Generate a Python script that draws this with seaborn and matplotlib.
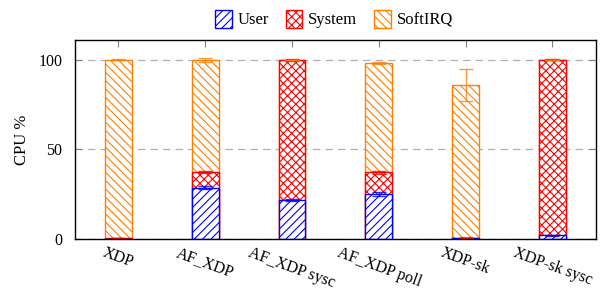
import numpy as np
import pandas as pd
import matplotlib
matplotlib.use('Agg')
import matplotlib.pyplot as plt
import seaborn as sns
from matplotlib.patches import Patch

# dados
configs = ['XDP', 'AF_XDP', 'AF_XDP sysc', 'AF_XDP poll', 'XDP-sk', 'XDP-sk sysc']
user = [0.0, 28.7, 21.8, 25.1, 0.3, 2.0]
system = [0.3, 8.6, 78.2, 12.2, 0.0, 98.0]
softirq = [99.7, 62.7, 0.0, 60.8, 85.7, 0.0]
user_err = [0.0, 0.8, 0.5, 1.0, 0.0, 0.3]
system_err = [0.0, 0.5, 0.5, 0.8, 0.0, 0.3]
softirq_err = [0.3, 1.0, 0.0, 0.5, 8.8, 0.0]

plt.rcParams['font.family'] = ['Liberation Serif', 'DejaVu Serif']
plt.rcParams['hatch.linewidth'] = 0.8

df = pd.DataFrame({'config': configs, 'user': user, 'system': system, 'softirq': softirq})
df['top_user'] = df['user']
df['top_system'] = df['user'] + df['system']
df['top_softirq'] = df['top_system'] + df['softirq']

blue = '#0000ff'
red = '#ff0000'
orange = '#ff8000'

fig = plt.figure(figsize=(6, 2.92), dpi=100)
ax = fig.add_axes([0.125, 0.1815, 0.868, 0.6815])

camadas = [('top_softirq', orange, '\\\\\\\\', 'SoftIRQ'),
           ('top_system', red, 'xxxx', 'System'),
           ('top_user', blue, '////', 'User')]
for col, cor, hatch, nome in camadas:
    sns.barplot(data=df, x='config', y=col, ax=ax, width=0.31, errorbar=None,
                facecolor='white', edgecolor=cor, hatch=hatch, linewidth=1.0)

x = np.arange(len(configs))
for topo, err, cor in [(df['top_user'], user_err, blue),
                       (df['top_system'], system_err, red),
                       (df['top_softirq'], softirq_err, orange)]:
    ax.errorbar(x, topo, yerr=err, fmt='none', ecolor=cor, elinewidth=1.0,
                capsize=5, capthick=1.0, alpha=0.8)

ax.set_xlim(-0.5, 5.5)
ax.set_ylim(0, 111)
ax.set_yticks([0, 50, 100])
ax.yaxis.grid(True, linestyle=(0, (6, 4)), color='#b0b0b0', linewidth=0.9)
ax.set_axisbelow(True)
ax.set_xlabel('')
ax.set_ylabel('CPU %', fontsize=12, labelpad=6)
ax.tick_params(axis='both', direction='in', color='#808080', length=5,
               top=True, right=True, labelsize=11.5)
ax.tick_params(axis='y', pad=9)
ax.tick_params(axis='x', pad=4)
ax.set_xticks(x)
ax.set_xticklabels(configs, rotation=-20, ha='center', rotation_mode='default')
for sp in ax.spines.values():
    sp.set_color('black')
    sp.set_linewidth(1.0)

handles = [Patch(facecolor='white', edgecolor=blue, hatch='////', label='User'),
           Patch(facecolor='white', edgecolor=red, hatch='xxxx', label='System'),
           Patch(facecolor='white', edgecolor=orange, hatch='\\\\\\\\', label='SoftIRQ')]
ax.legend(handles=handles, loc='center', bbox_to_anchor=(0.497, 1.105), ncol=3,
          frameon=False, fontsize=12, handlelength=1.0, handleheight=1.3,
          columnspacing=1.0, handletextpad=0.35)

fig.savefig('out.png', dpi=100)
